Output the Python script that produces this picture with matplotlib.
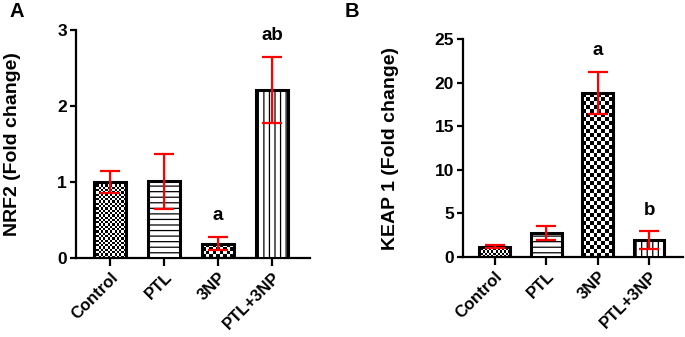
import numpy as np
import matplotlib
matplotlib.use("Agg")
import matplotlib.pyplot as plt

plt.rcParams['font.family'] = ['Liberation Sans', 'DejaVu Sans']
plt.rcParams['font.weight'] = 'bold'
plt.rcParams['hatch.linewidth'] = 0.9

categories = ["Control", "PTL", "3NP", "PTL+3NP"]

nrf2_mean = [1.00, 1.01, 0.19, 2.21]
nrf2_err = [0.14, 0.36, 0.09, 0.44]
nrf2_letters = ["", "", "a", "ab"]

keap1_mean = [1.2, 2.8, 18.8, 1.95]
keap1_err = [0.15, 0.8, 2.45, 1.0]
keap1_letters = ["", "", "a", "b"]

# fill style per group: ('checker', cell_px) or ('hatch', pattern)
styles_A = [("checker", 2.3), ("hatch", "---"), ("checker", 3.6), ("hatch", "|||")]
styles_B = [("checker", 2.1), ("hatch", "---"), ("checker", 4.0), ("hatch", "|||")]

fig = plt.figure(figsize=(6.85, 3.37), dpi=100)
W, H = 685, 337


def add_axes_px(left, right, top, bottom):
    return fig.add_axes([left / W, 1 - bottom / H, (right - left) / W, (bottom - top) / H])


def panel(ax, means, errs, letters, styles, ylim, yticks, xlim, ylabel, label_x, bw):
    x = np.arange(len(categories))
    ax.set_xlim(*xlim)
    ax.set_ylim(*ylim)
    bars = []
    for i, (m, st) in enumerate(zip(means, styles)):
        if st[0] == "hatch":
            b = ax.bar(x[i], m, width=bw, facecolor="white", edgecolor="black",
                       linewidth=2.2, hatch=st[1], zorder=3)[0]
        else:
            b = ax.bar(x[i], m, width=bw, facecolor="none", edgecolor="black",
                       linewidth=2.2, zorder=3)[0]
        bars.append(b)
    # checkerboard fills
    for b, st in zip(bars, styles):
        if st[0] != "checker":
            continue
        x0, y0 = b.get_x(), b.get_y()
        w, h = b.get_width(), b.get_height()
        p0 = ax.transData.transform((x0, y0))
        p1 = ax.transData.transform((x0 + w, y0 + h))
        ncol = max(1, int(round(abs(p1[0] - p0[0]) / st[1])))
        nrow = max(1, int(round(abs(p1[1] - p0[1]) / st[1])))
        arr = (np.add.outer(np.arange(nrow), np.arange(ncol)) % 2).astype(float)
        im = ax.imshow(arr, extent=[x0, x0 + w, y0, y0 + h], cmap="gray",
                       vmin=0, vmax=1, interpolation="nearest", aspect="auto",
                       zorder=2, origin="lower")
        im.set_clip_path(b)
    ax.set_xlim(*xlim)
    ax.set_ylim(*ylim)
    ax.errorbar(x, means, yerr=errs, fmt="none", ecolor="#ff0000", elinewidth=1.6,
                capsize=7, capthick=1.6, zorder=5)
    for i, (m, e, t) in enumerate(zip(means, errs, letters)):
        if t:
            ax.annotate(t, (x[i], m + e), xytext=(0, 15), textcoords="offset points",
                        ha="center", va="center", fontsize=13.5, fontweight="bold")
    for s in ["top", "right"]:
        ax.spines[s].set_visible(False)
    for s in ["left", "bottom"]:
        ax.spines[s].set_linewidth(1.6)
    ax.set_yticks(yticks)
    ax.set_yticklabels([str(v) for v in yticks], fontsize=12.5, fontweight="bold")
    ax.set_xticks(x)
    ax.set_xticklabels(categories, rotation=45, ha="right", rotation_mode="anchor",
                       fontsize=12, fontweight="bold")
    ax.tick_params(axis="y", length=4.5, width=1.6, pad=2)
    ax.tick_params(axis="x", length=5.5, width=1.6, pad=3)
    ax.set_ylabel(ylabel, fontsize=14, fontweight="bold")
    ax.yaxis.set_label_coords(label_x, 0.5)


axA = add_axes_px(76, 310, 30, 258)
panel(axA, nrf2_mean, nrf2_err, nrf2_letters, styles_A, (0, 3), [0, 1, 2, 3],
      (-0.63, 3.70), "NRF2 (Fold change)", -0.235, 0.58)

axB = add_axes_px(463, 683, 39, 257)
panel(axB, keap1_mean, keap1_err, keap1_letters, styles_B, (0, 25), [0, 5, 10, 15, 20, 25],
      (-0.62, 3.66), "KEAP 1 (Fold change)", -0.29, 0.6)

fig.text(9 / W, 1 - 2 / H, "A", fontsize=14.5, fontweight="bold", va="top", ha="left")
fig.text(345 / W, 1 - 2 / H, "B", fontsize=14.5, fontweight="bold", va="top", ha="left")

fig.savefig("out.png", dpi=100)
